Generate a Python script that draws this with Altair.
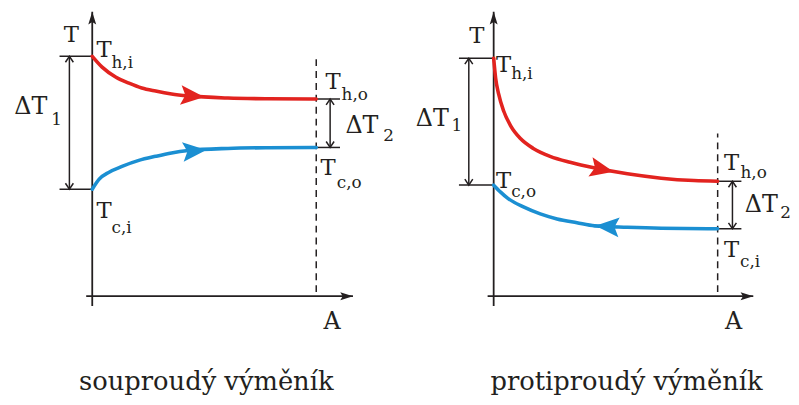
import altair as alt
import pandas as pd

# ---------------- data (schematic units: A = 1 at exchanger outlet, T = 100 at left T_h,i)
# left panel – souproudý (parallel flow)
L_hot_A = [0, 0.044, 0.106, 0.164, 0.221, 0.283, 0.354, 0.429, 0.606, 0.783, 1.0]
L_hot_T = [100, 95.5, 91.3, 88.8, 86.8, 85.5, 84.3, 83.5, 82.6, 82.3, 82.2]
L_cold_A = [0, 0.031, 0.075, 0.133, 0.208, 0.283, 0.354, 0.429, 0.606, 0.783, 1.0]
L_cold_T = [44.6, 48.8, 51.7, 54.1, 56.6, 58.3, 59.7, 60.7, 61.6, 61.9, 62.0]
# right panel – protiproudý (counter flow)
R_hot_A = [0, 0.0088, 0.0221, 0.0442, 0.0752, 0.1195, 0.177, 0.252, 0.341, 0.460, 0.597, 0.748, 0.894, 1.0]
R_hot_T = [99.2, 90.9, 84.3, 77.3, 71.1, 65.7, 61.6, 58.3, 55.8, 53.3, 51.0, 49.2, 48.2, 47.9]
R_cold_A = [0, 0.031, 0.062, 0.133, 0.208, 0.283, 0.372, 0.451, 0.597, 0.748, 1.0]
R_cold_T = [46.3, 43.4, 40.9, 37.2, 34.3, 32.2, 30.6, 29.3, 28.7, 28.3, 28.1]

# characteristic temperatures
L_levels = {"Thi": 100.0, "Tleft2": 44.6, "Tend_hot": 82.2, "Tend_cold": 62.0}
R_levels = {"Thi": 99.2, "Tleft2": 46.3, "Tend_hot": 47.9, "Tend_cold": 28.1}

# flow-direction arrows on the curves: series, A, T, angle
L_flow = [("hot", 0.442, 83.5, 5), ("cold", 0.451, 60.5, 355)]
R_flow = [("hot", 0.478, 53.0, 12), ("cold", 0.513, 29.0, 184)]

# labels: text, A, T, size, align
L_labels = [
    ("T", -0.093, 105.8, 23, "center"),
    ("T", 0.053, 99.6, 23, "center"), ("h,i", 0.086, 95.0, 17, "left"),
    ("ΔT", -0.274, 76.0, 24, "center"), ("1", -0.159, 71.5, 17, "center"),
    ("T", 0.053, 32.6, 23, "center"), ("c,i", 0.086, 26.4, 17, "left"),
    ("T", 1.075, 86.4, 23, "center"), ("h,o", 1.113, 81.8, 17, "left"),
    ("ΔT", 1.204, 68.2, 24, "center"), ("2", 1.323, 64.9, 17, "center"),
    ("T", 1.053, 50.4, 23, "center"), ("c,o", 1.092, 45.0, 17, "left"),
    ("A", 1.071, -13.6, 24, "center"),
    ("souproudý výměník", 0.509, -39.3, 26, "center"),
]
R_labels = [
    ("T", -0.075, 105.4, 23, "center"),
    ("T", 0.044, 93.4, 23, "center"), ("h,i", 0.078, 90.5, 17, "left"),
    ("ΔT", -0.274, 71.1, 24, "center"), ("1", -0.164, 69.0, 17, "center"),
    ("T", 0.044, 45.0, 23, "center"), ("c,o", 0.078, 41.3, 17, "left"),
    ("T", 1.062, 52.5, 23, "center"), ("h,o", 1.102, 49.2, 17, "left"),
    ("ΔT", 1.195, 35.1, 24, "center"), ("2", 1.303, 32.6, 17, "center"),
    ("T", 1.062, 16.5, 23, "center"), ("c,i", 1.100, 12.0, 17, "left"),
    ("A", 1.071, -13.6, 24, "center"),
    ("protiproudý výměník", 0.593, -39.3, 26, "center"),
]

# geometry of the schematic (in A / T units)
L_geom = dict(ytop=118.6, ybot=-4.1, xleft=-0.027, xtip=1.164, tick0=-0.146, dT1=-0.102,
              dash_top=100.8, dash_bot=1.7, tick1=1.106, dT2=1.062)
R_geom = dict(ytop=118.6, ybot=-4.1, xleft=-0.027, xtip=1.159, tick0=-0.155, dT1=-0.111,
              dash_top=67.8, dash_bot=1.7, tick1=1.106, dT2=1.066)

RED = "#e2231f"
BLUE = "#1b8fd2"
INK = "#231f20"
FONT = "DejaVu Serif"
YD = [-41.32, 119.42]

AX_ARROW = "M0,0L0.5,1.6L0,1.3L-0.5,1.6Z"
CHEVRON = "M-0.5,0.75L0,0L0.5,0.75"
FLOW_ARROW = "M1,0L-0.8,-0.75L-0.45,0L-0.8,0.75Z"


def panel(hA, hT, cA, cT, lv, flow, labels, g, width, xdom):
    xs = alt.Scale(domain=xdom, nice=False, zero=False)
    ys = alt.Scale(domain=YD, nice=False, zero=False)

    def X(f="x"):
        return alt.X(f"{f}:Q", scale=xs, axis=None)

    def Y(f="y"):
        return alt.Y(f"{f}:Q", scale=ys, axis=None)

    curves = pd.DataFrame(
        [{"s": "hot", "i": i, "x": a, "y": t} for i, (a, t) in enumerate(zip(hA, hT))]
        + [{"s": "cold", "i": i, "x": a, "y": t} for i, (a, t) in enumerate(zip(cA, cT))]
    )
    col = alt.Color("s:N", scale=alt.Scale(domain=["hot", "cold"], range=[RED, BLUE]), legend=None)

    line = alt.Chart(curves).mark_line(strokeWidth=3.6, strokeCap="round", interpolate="monotone").encode(
        x=X(), y=Y(), color=col, detail="s:N", order="i:Q")

    fl = pd.DataFrame([{"s": s, "x": a, "y": t, "ang": ang} for s, a, t, ang in flow])
    flow_marks = alt.Chart(fl).mark_point(shape=FLOW_ARROW, filled=True, size=700, opacity=1).encode(
        x=X(), y=Y(), color=col, angle=alt.Angle("ang:Q", scale=None))

    # axes
    axes = pd.DataFrame([
        {"x": 0, "x2": 0, "y": g["ybot"], "y2": g["ytop"]},
        {"x": g["xleft"], "x2": g["xtip"], "y": 0, "y2": 0},
    ])
    axis_lines = alt.Chart(axes).mark_rule(color=INK, strokeWidth=1.8).encode(
        x=X(), x2="x2:Q", y=Y(), y2="y2:Q")
    heads = pd.DataFrame([
        {"x": 0, "y": g["ytop"], "ang": 0},
        {"x": g["xtip"], "y": 0, "ang": 90},
    ])
    axis_heads = alt.Chart(heads).mark_point(shape=AX_ARROW, filled=True, size=256, color=INK, opacity=1).encode(
        x=X(), y=Y(), angle=alt.Angle("ang:Q", scale=None))

    # ticks and delta arrows
    ticks = pd.DataFrame([
        {"x": g["tick0"], "x2": 0, "y": lv["Thi"], "y2": lv["Thi"]},
        {"x": g["tick0"], "x2": 0, "y": lv["Tleft2"], "y2": lv["Tleft2"]},
        {"x": 1, "x2": g["tick1"], "y": lv["Tend_hot"], "y2": lv["Tend_hot"]},
        {"x": 1, "x2": g["tick1"], "y": lv["Tend_cold"], "y2": lv["Tend_cold"]},
        {"x": g["dT1"], "x2": g["dT1"], "y": lv["Thi"], "y2": lv["Tleft2"]},
        {"x": g["dT2"], "x2": g["dT2"], "y": lv["Tend_hot"], "y2": lv["Tend_cold"]},
    ])
    tick_lines = alt.Chart(ticks).mark_rule(color=INK, strokeWidth=1.5).encode(
        x=X(), x2="x2:Q", y=Y(), y2="y2:Q")
    chev = pd.DataFrame([
        {"x": g["dT1"], "y": lv["Thi"], "ang": 0},
        {"x": g["dT1"], "y": lv["Tleft2"], "ang": 180},
        {"x": g["dT2"], "y": lv["Tend_hot"], "ang": 0},
        {"x": g["dT2"], "y": lv["Tend_cold"], "ang": 180},
    ])
    chevrons = alt.Chart(chev).mark_point(shape=CHEVRON, filled=False, size=256, color=INK,
                                         strokeWidth=1.5, opacity=1).encode(
        x=X(), y=Y(), angle=alt.Angle("ang:Q", scale=None))

    dash = pd.DataFrame([{"x": 1, "y": g["dash_bot"], "y2": g["dash_top"]}])
    dashed = alt.Chart(dash).mark_rule(color=INK, strokeWidth=1.5, strokeDash=[7, 5]).encode(
        x=X(), y=Y(), y2="y2:Q")

    lab = pd.DataFrame([{"t": t, "x": a, "y": v, "sz": s, "al": al} for t, a, v, s, al in labels])
    texts = []
    for al in ["left", "center"]:
        texts.append(
            alt.Chart(lab).transform_filter(alt.datum.al == al).mark_text(
                font=FONT, align=al, baseline="alphabetic", color=INK).encode(
                x=X(), y=Y(), text="t:N", size=alt.Size("sz:Q", scale=None))
        )

    return alt.layer(dashed, axis_lines, axis_heads, tick_lines, chevrons, line, flow_marks, *texts).properties(
        width=width, height=389)


left = panel(L_hot_A, L_hot_T, L_cold_A, L_cold_T, L_levels, L_flow, L_labels, L_geom,
             395, [-0.3761, 1.3717])
right = panel(R_hot_A, R_hot_T, R_cold_A, R_cold_T, R_levels, R_flow, R_labels, R_geom,
              394, [-0.4204, 1.323])

chart = (
    alt.hconcat(left, right, spacing=0)
    .properties(padding=0, background="white")
    .configure_view(stroke=None)
    .configure_text(font=FONT)
)

chart.save("out.html", embed_options={"renderer": "svg", "actions": False})
